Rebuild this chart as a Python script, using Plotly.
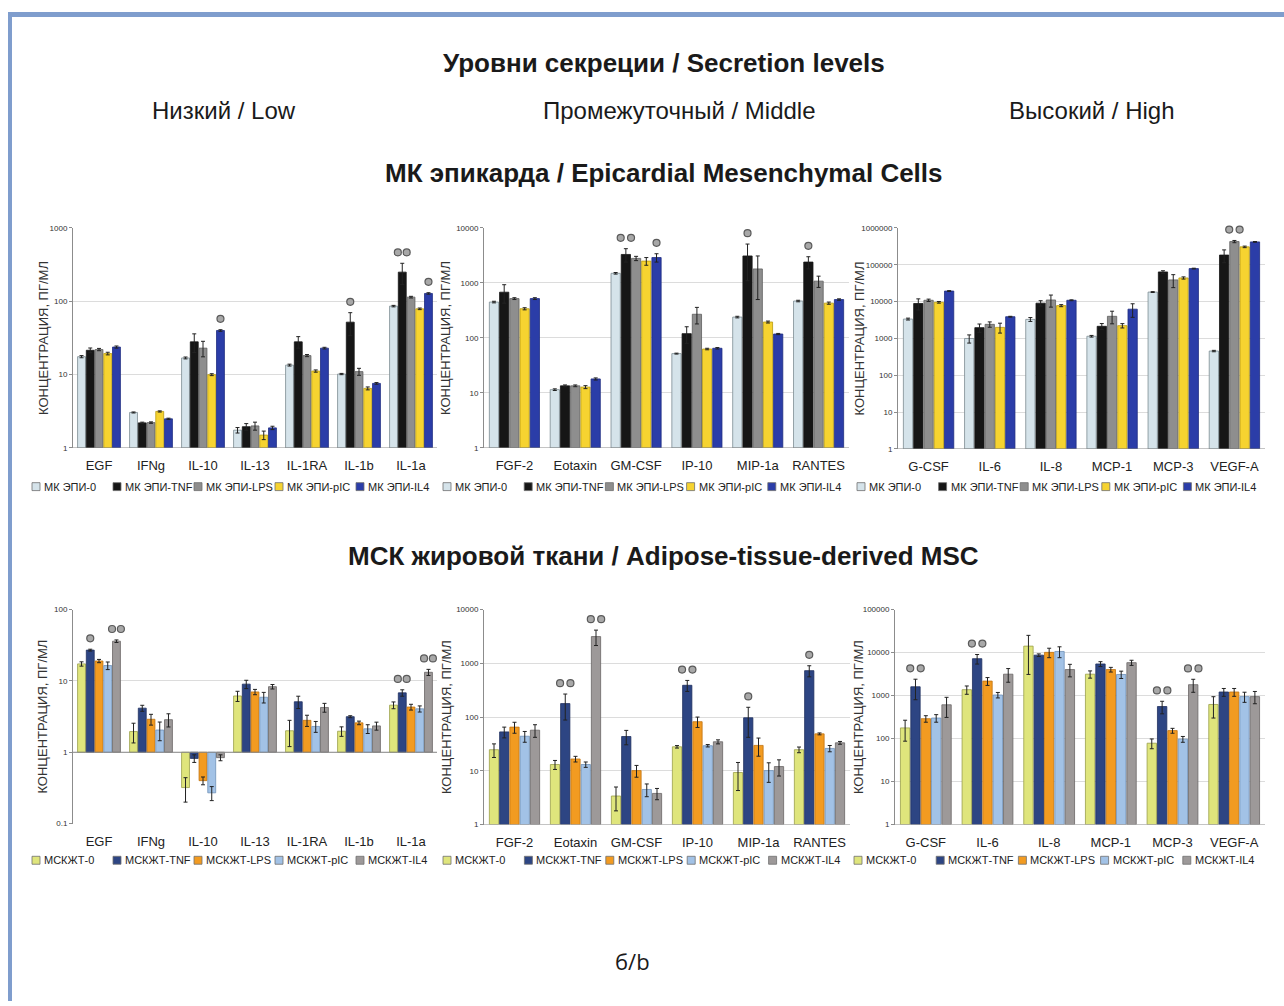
import plotly.graph_objects as go

W, H = 1284, 1006

# ---------------- data ----------------
LOW_CATS = ["EGF", "IFNg", "IL-10", "IL-13", "IL-1RA", "IL-1b", "IL-1a"]
MID_CATS = ["FGF-2", "Eotaxin", "GM-CSF", "IP-10", "MIP-1a", "RANTES"]
HIGH_CATS = ["G-CSF", "IL-6", "IL-8", "MCP-1", "MCP-3", "VEGF-A"]

SERIES_EPI = ["МК ЭПИ-0", "МК ЭПИ-TNF", "МК ЭПИ-LPS", "МК ЭПИ-pIC", "МК ЭПИ-IL4"]
SERIES_MSC = ["МСКЖТ-0", "МСКЖТ-TNF", "МСКЖТ-LPS", "МСКЖТ-pIC", "МСКЖТ-IL4"]

# rows = series (0, TNF, LPS, pIC, IL4), columns = categories
EPI_LOW_VALS = [
    [17.6, 3.05, 16.9, 1.75, 13.5, 10.2, 86],
    [21.5, 2.2, 28, 1.95, 28, 52, 250],
    [22, 2.22, 23, 2.0, 18.2, 11, 114],
    [19.4, 3.15, 10, 1.5, 11.2, 6.5, 79],
    [23.8, 2.5, 40, 1.88, 23, 7.6, 128],
]
EPI_LOW_ERR = [
    [0.6, 0.05, 0.5, 0.15, 0.4, 0.2, 2],
    [1.6, 0.05, 8, 0.2, 5, 18, 80],
    [0.8, 0.05, 5.5, 0.25, 0.6, 1.2, 3],
    [0.8, 0.06, 0.3, 0.2, 0.4, 0.3, 2],
    [0.8, 0.05, 1, 0.1, 0.6, 0.2, 3],
]
EPI_LOW_SIG = [("IL-10", 4, 1), ("IL-1b", 1, 1), ("IL-1a", 1, 2), ("IL-1a", 4, 1)]

EPI_MID_VALS = [
    [450, 11.5, 1500, 52, 240, 470],
    [680, 13.5, 3300, 120, 3100, 2400],
    [520, 13.5, 2800, 270, 1800, 1080],
    [340, 12.8, 2500, 63, 195, 430],
    [520, 18, 2900, 65, 118, 500],
]
EPI_MID_ERR = [
    [15, 0.4, 50, 1, 8, 15],
    [250, 0.5, 900, 40, 2000, 600],
    [20, 0.5, 250, 90, 1300, 250],
    [15, 0.8, 400, 2, 8, 20],
    [20, 0.8, 500, 2, 3, 15],
]
EPI_MID_SIG = [("GM-CSF", 1, 2), ("GM-CSF", 4, 1), ("MIP-1a", 1, 1), ("RANTES", 1, 1)]

EPI_HIGH_VALS = [
    [3370, 1000, 3300, 1150, 18200, 456],
    [8900, 1970, 9100, 2140, 64000, 184000],
    [10900, 2420, 11100, 4000, 39000, 428000],
    [9600, 2000, 7800, 2230, 44000, 307000],
    [19400, 3900, 10900, 6250, 79000, 419000],
]
EPI_HIGH_ERR = [
    [200, 250, 400, 60, 500, 20],
    [3000, 500, 1500, 400, 5000, 70000],
    [800, 400, 4000, 1500, 15000, 30000],
    [500, 600, 500, 300, 3000, 15000],
    [500, 100, 300, 2500, 2000, 10000],
]
EPI_HIGH_SIG = [("VEGF-A", 2, 2)]

MSC_LOW_VALS = [
    [17.3, 1.95, 0.32, 6.15, 2.0, 1.97, 4.57],
    [27, 4.15, 0.82, 9.0, 5.1, 3.15, 6.8],
    [19, 2.9, 0.40, 7.0, 2.8, 2.58, 4.3],
    [16.4, 2.05, 0.27, 5.9, 2.3, 2.13, 4.06],
    [36, 2.86, 0.84, 8.3, 4.24, 2.34, 13.2],
]
MSC_LOW_ERR = [
    [1.2, 0.6, 0.12, 1.0, 0.8, 0.3, 0.5],
    [0.8, 0.4, 0.1, 1.2, 1.0, 0.1, 0.7],
    [1.0, 0.5, 0.05, 0.6, 0.5, 0.15, 0.4],
    [2.0, 0.6, 0.06, 1.0, 0.4, 0.3, 0.4],
    [1.5, 0.6, 0.08, 0.6, 0.6, 0.3, 1.3],
]
MSC_LOW_SIG = [("EGF", 1, 1), ("EGF", 4, 2), ("IL-1a", 1, 2), ("IL-1a", 4, 2)]

MSC_MID_VALS = [
    [24.7, 13.1, 3.4, 28, 9.3, 24.7],
    [53, 178, 43.5, 390, 97, 730],
    [65, 16.6, 10.1, 82, 29.7, 48.7],
    [44, 13.1, 4.5, 29.3, 10.1, 26.1],
    [57, 3140, 3.8, 34.7, 12, 33.2],
]
MSC_MID_ERR = [
    [7, 2.5, 1.6, 1.5, 5, 3],
    [12, 90, 13, 90, 55, 170],
    [15, 2, 2.5, 18, 11, 2],
    [10, 1.5, 1.2, 1.5, 4, 3.5],
    [15, 1000, 0.9, 3, 4, 2],
]
MSC_MID_SIG = [("Eotaxin", 1, 2), ("Eotaxin", 4, 2), ("IP-10", 1, 2), ("MIP-1a", 1, 1), ("RANTES", 1, 1)]

MSC_HIGH_VALS = [
    [177, 1370, 14100, 3140, 78, 620],
    [1600, 7200, 8700, 5430, 556, 1210],
    [290, 2170, 10100, 4020, 153, 1210],
    [300, 1030, 10600, 3090, 97, 945],
    [610, 3140, 4020, 5820, 1790, 945],
]
MSC_HIGH_ERR = [
    [90, 300, 11000, 600, 20, 320],
    [800, 1800, 600, 700, 180, 250],
    [50, 450, 2500, 500, 20, 250],
    [60, 150, 3000, 600, 15, 250],
    [300, 1100, 1300, 800, 600, 300],
]
MSC_HIGH_SIG = [("G-CSF", 1, 2), ("IL-6", 1, 2), ("MCP-3", 1, 2), ("MCP-3", 4, 2)]

# ---------------- styles ----------------
EPI_FILL = ["#d5e3ea", "#161616", "#8e8e8e", "#f6d330", "#2b3da8"]
EPI_LINE = ["#7c8b92", "#161616", "#5e5e5e", "#b89a10", "#1e2c80"]
MSC_FILL = ["#dfe57c", "#2d4583", "#f29b21", "#a2c2e6", "#9d9999"]
MSC_LINE = ["#9aa04a", "#1f3060", "#c07412", "#6f90b8", "#6a6666"]

SANS = "Liberation Sans, Arial, sans-serif"
STRIDE = 0.168
BW = 0.152
YTITLE = "КОНЦЕНТРАЦИЯ, ПГ/МЛ"

panels = [
    dict(cats=LOW_CATS, vals=EPI_LOW_VALS, errs=EPI_LOW_ERR, sig=EPI_LOW_SIG, names=SERIES_EPI,
         fill=EPI_FILL, line=EPI_LINE, yr=(0, 3), box=(73, 437, 226, 448), legy=487, ytx=44),
    dict(cats=MID_CATS, vals=EPI_MID_VALS, errs=EPI_MID_ERR, sig=EPI_MID_SIG, names=SERIES_EPI,
         fill=EPI_FILL, line=EPI_LINE, yr=(0, 4), box=(484, 849, 226, 448), legy=487, ytx=446),
    dict(cats=HIGH_CATS, vals=EPI_HIGH_VALS, errs=EPI_HIGH_ERR, sig=EPI_HIGH_SIG, names=SERIES_EPI,
         fill=EPI_FILL, line=EPI_LINE, yr=(0, 6), box=(898, 1265, 226, 449), legy=487, ytx=859),
    dict(cats=LOW_CATS, vals=MSC_LOW_VALS, errs=MSC_LOW_ERR, sig=MSC_LOW_SIG, names=SERIES_MSC,
         fill=MSC_FILL, line=MSC_LINE, yr=(-1, 2), box=(73, 437, 611, 827), legy=864, ytx=43),
    dict(cats=MID_CATS, vals=MSC_MID_VALS, errs=MSC_MID_ERR, sig=MSC_MID_SIG, names=SERIES_MSC,
         fill=MSC_FILL, line=MSC_LINE, yr=(0, 4), box=(484, 850, 611, 828), legy=864, ytx=446),
    dict(cats=HIGH_CATS, vals=MSC_HIGH_VALS, errs=MSC_HIGH_ERR, sig=MSC_HIGH_SIG, names=SERIES_MSC,
         fill=MSC_FILL, line=MSC_LINE, yr=(0, 5), box=(895, 1265, 611, 828), legy=864, ytx=858),
]


def fx(p):
    return p / W


def fy(p):
    return 1 - p / H


fig = go.Figure()
shapes = []
annotations = []

for k, p in enumerate(panels, 1):
    sfx = "" if k == 1 else str(k)
    xa, ya = "x" + sfx, "y" + sfx
    n = len(p["cats"])
    x0, x1, y0, y1 = p["box"]
    lo, hi = p["yr"]
    px_per_dec = (y1 - y0) / (hi - lo)

    for s in range(5):
        xs = [i + (s - 2) * STRIDE for i in range(n)]
        fig.add_trace(go.Bar(
            x=xs, y=[v - 1 for v in p["vals"][s]], base=1, width=BW,
            marker=dict(color=p["fill"][s], line=dict(color=p["line"][s], width=0.8)),
            error_y=dict(type="data", array=p["errs"][s], color="#222222", thickness=1, width=2),
            xaxis=xa, yaxis=ya, showlegend=False, name=p["names"][s]))

    # baseline at value 1
    fig.add_trace(go.Scatter(x=[-0.5, n - 0.5], y=[1, 1], mode="lines",
                             line=dict(color="#8a8a8a", width=1.2), xaxis=xa, yaxis=ya,
                             showlegend=False, hoverinfo="skip"))

    # significance marks
    fac = 10 ** (11 / px_per_dec)
    mx, my = [], []
    for cat, s, cnt in p["sig"]:
        i = p["cats"].index(cat)
        xc = i + (s - 2) * STRIDE
        top = (p["vals"][s][i] + p["errs"][s][i]) * fac
        offs = [0] if cnt == 1 else [-0.085, 0.085]
        for o in offs:
            mx.append(xc + o)
            my.append(top)
    fig.add_trace(go.Scatter(x=mx, y=my, mode="markers", cliponaxis=False,
                             marker=dict(symbol="circle", size=7, color="#a8a8a8",
                                         line=dict(color="#5a5a5a", width=1.2)),
                             xaxis=xa, yaxis=ya, showlegend=False, hoverinfo="skip"))

    tv = [10 ** e for e in range(lo, hi + 1)]
    tt = [("0.1" if e < 0 else str(10 ** e)) for e in range(lo, hi + 1)]
    fig.layout["xaxis" + sfx] = dict(
        domain=[fx(x0), fx(x1)], anchor=ya, range=[-0.5, n - 0.5],
        tickvals=list(range(n)), ticktext=p["cats"], showgrid=False, zeroline=False,
        showline=False, ticks="", ticklabelstandoff=8,
        tickfont=dict(family=SANS, size=13, color="#222222"))
    fig.layout["yaxis" + sfx] = dict(
        domain=[fy(y1), fy(y0)], anchor=xa, type="log", range=[lo, hi],
        tickvals=tv, ticktext=tt, showgrid=True, gridcolor="#dcdcdc", gridwidth=1,
        showline=True, linecolor="#8c8c8c", ticks="outside", ticklen=3, tickcolor="#8c8c8c",
        tickfont=dict(family=SANS, size=8, color="#333333"), zeroline=False)

    # y-axis title
    annotations.append(dict(x=fx(p["ytx"]), y=fy((y0 + y1) / 2), xref="paper", yref="paper",
                            text=YTITLE, textangle=-90, showarrow=False,
                            xanchor="center", yanchor="middle",
                            font=dict(family=SANS, size=13, color="#333333")))

    # manual legend
    lx = x0 - 41
    step = (x1 - lx) / 5.0
    for s in range(5):
        sx = lx + s * step
        shapes.append(dict(type="rect", xref="paper", yref="paper",
                           x0=fx(sx), x1=fx(sx + 8), y0=fy(p["legy"] + 4), y1=fy(p["legy"] - 4),
                           fillcolor=p["fill"][s], line=dict(color="#6e6e6e", width=0.8)))
        annotations.append(dict(x=fx(sx + 10), y=fy(p["legy"]), xref="paper", yref="paper",
                                text=p["names"][s], showarrow=False, xanchor="left", yanchor="middle",
                                font=dict(family=SANS, size=11, color="#222222")))

# frame lines
shapes.append(dict(type="rect", xref="paper", yref="paper", x0=fx(8), x1=1, y0=fy(13), y1=fy(8),
                   fillcolor="#7f9dcd", line=dict(width=0)))
shapes.append(dict(type="rect", xref="paper", yref="paper", x0=fx(8), x1=fx(12), y0=0, y1=fy(8),
                   fillcolor="#7f9dcd", line=dict(width=0)))


# titles
def txt(x, y, t, size, bold=False, family=SANS):
    annotations.append(dict(x=fx(x), y=fy(y), xref="paper", yref="paper",
                            text=("<b>%s</b>" % t) if bold else t, showarrow=False,
                            xanchor="center", yanchor="middle",
                            font=dict(family=family, size=size, color="#1a1a1a")))


txt(664, 60, "Уровни секреции / Secretion levels", 26, True)
txt(224, 107, "Низкий / Low", 24)
txt(680, 107, "Промежуточный / Middle", 24)
txt(1092, 107, "Высокий / High", 24)
txt(664, 171, "МК эпикарда / Epicardial Mesenchymal Cells", 26, True)
txt(664, 557, "МСК жировой ткани / Adipose-tissue-derived MSC", 26, True)
txt(632, 966, "б/b", 22, False, "Open Sans, Liberation Sans, sans-serif")

fig.update_layout(
    width=W, height=H, margin=dict(l=0, r=0, t=0, b=0),
    paper_bgcolor="white", plot_bgcolor="white",
    barmode="overlay", showlegend=False,
    shapes=shapes, annotations=annotations,
    font=dict(family=SANS),
)

fig.write_html("out.html")
